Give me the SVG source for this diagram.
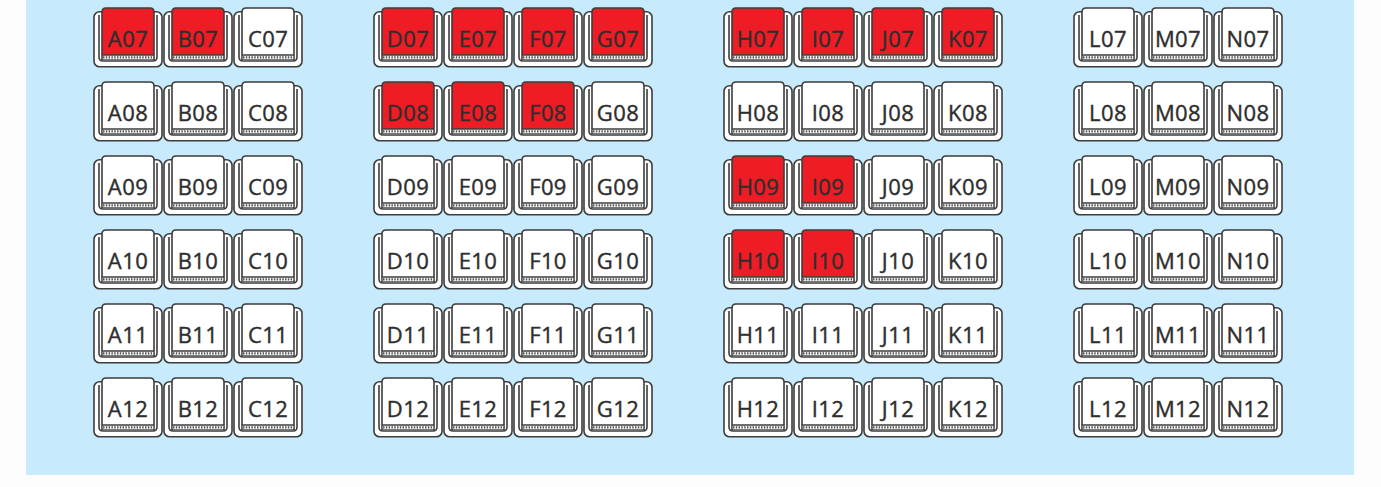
<svg xmlns="http://www.w3.org/2000/svg" xmlns:xlink="http://www.w3.org/1999/xlink" width="1381" height="487" viewBox="0 0 1381 487">
<style>
.ln{stroke:#3d3d3d;stroke-width:1.6;}
.booked{fill:#ee1c25;}
.free{fill:#ffffff;}
.lbl{fill:#2e2e2e;stroke:#2e2e2e;stroke-width:0.4px;font-family:"Open Sans","Noto Sans","Liberation Sans",sans-serif;font-size:22px;letter-spacing:0.4px;text-anchor:middle;}
</style>
<defs>
<g id="chair">
<rect class="ln" x="1" y="3.7" width="68" height="55" rx="5.5" fill="#ffffff"/>
<path class="ln" d="M6,7 V49 Q6,53 10,53 H60 Q64,53 64,49 V7" fill="none"/>
<path class="ln" d="M9,51.3 V4 Q9,0 13,0 H57 Q61,0 61,4 V51.3 Z"/>
<rect x="9.8" y="47" width="50.4" height="4.3" fill="#ffffff"/>
<line class="ln" x1="9" y1="47" x2="61" y2="47" stroke-width="1"/>
<line x1="10" y1="49.3" x2="60" y2="49.3" stroke="#555555" stroke-width="2.2" stroke-dasharray="1.5 1.3"/>
</g>
</defs>
<rect x="0" y="0" width="1381" height="487" fill="#fdfdfd"/>
<rect x="26" y="0" width="1328" height="475" fill="#c7eafc"/>
<g id="seats">
<g id="A07" class="booked" transform="translate(93,8)"><use href="#chair"/><text class="lbl" x="35" y="39">A07</text></g>
<g id="B07" class="booked" transform="translate(163,8)"><use href="#chair"/><text class="lbl" x="35" y="39">B07</text></g>
<g id="C07" class="free" transform="translate(233,8)"><use href="#chair"/><text class="lbl" x="35" y="39">C07</text></g>
<g id="D07" class="booked" transform="translate(373,8)"><use href="#chair"/><text class="lbl" x="35" y="39">D07</text></g>
<g id="E07" class="booked" transform="translate(443,8)"><use href="#chair"/><text class="lbl" x="35" y="39">E07</text></g>
<g id="F07" class="booked" transform="translate(513,8)"><use href="#chair"/><text class="lbl" x="35" y="39">F07</text></g>
<g id="G07" class="booked" transform="translate(583,8)"><use href="#chair"/><text class="lbl" x="35" y="39">G07</text></g>
<g id="H07" class="booked" transform="translate(723,8)"><use href="#chair"/><text class="lbl" x="35" y="39">H07</text></g>
<g id="I07" class="booked" transform="translate(793,8)"><use href="#chair"/><text class="lbl" x="35" y="39">I07</text></g>
<g id="J07" class="booked" transform="translate(863,8)"><use href="#chair"/><text class="lbl" x="35" y="39">J07</text></g>
<g id="K07" class="booked" transform="translate(933,8)"><use href="#chair"/><text class="lbl" x="35" y="39">K07</text></g>
<g id="L07" class="free" transform="translate(1073,8)"><use href="#chair"/><text class="lbl" x="35" y="39">L07</text></g>
<g id="M07" class="free" transform="translate(1143,8)"><use href="#chair"/><text class="lbl" x="35" y="39">M07</text></g>
<g id="N07" class="free" transform="translate(1213,8)"><use href="#chair"/><text class="lbl" x="35" y="39">N07</text></g>

<g id="A08" class="free" transform="translate(93,82)"><use href="#chair"/><text class="lbl" x="35" y="39">A08</text></g>
<g id="B08" class="free" transform="translate(163,82)"><use href="#chair"/><text class="lbl" x="35" y="39">B08</text></g>
<g id="C08" class="free" transform="translate(233,82)"><use href="#chair"/><text class="lbl" x="35" y="39">C08</text></g>
<g id="D08" class="booked" transform="translate(373,82)"><use href="#chair"/><text class="lbl" x="35" y="39">D08</text></g>
<g id="E08" class="booked" transform="translate(443,82)"><use href="#chair"/><text class="lbl" x="35" y="39">E08</text></g>
<g id="F08" class="booked" transform="translate(513,82)"><use href="#chair"/><text class="lbl" x="35" y="39">F08</text></g>
<g id="G08" class="free" transform="translate(583,82)"><use href="#chair"/><text class="lbl" x="35" y="39">G08</text></g>
<g id="H08" class="free" transform="translate(723,82)"><use href="#chair"/><text class="lbl" x="35" y="39">H08</text></g>
<g id="I08" class="free" transform="translate(793,82)"><use href="#chair"/><text class="lbl" x="35" y="39">I08</text></g>
<g id="J08" class="free" transform="translate(863,82)"><use href="#chair"/><text class="lbl" x="35" y="39">J08</text></g>
<g id="K08" class="free" transform="translate(933,82)"><use href="#chair"/><text class="lbl" x="35" y="39">K08</text></g>
<g id="L08" class="free" transform="translate(1073,82)"><use href="#chair"/><text class="lbl" x="35" y="39">L08</text></g>
<g id="M08" class="free" transform="translate(1143,82)"><use href="#chair"/><text class="lbl" x="35" y="39">M08</text></g>
<g id="N08" class="free" transform="translate(1213,82)"><use href="#chair"/><text class="lbl" x="35" y="39">N08</text></g>

<g id="A09" class="free" transform="translate(93,156)"><use href="#chair"/><text class="lbl" x="35" y="39">A09</text></g>
<g id="B09" class="free" transform="translate(163,156)"><use href="#chair"/><text class="lbl" x="35" y="39">B09</text></g>
<g id="C09" class="free" transform="translate(233,156)"><use href="#chair"/><text class="lbl" x="35" y="39">C09</text></g>
<g id="D09" class="free" transform="translate(373,156)"><use href="#chair"/><text class="lbl" x="35" y="39">D09</text></g>
<g id="E09" class="free" transform="translate(443,156)"><use href="#chair"/><text class="lbl" x="35" y="39">E09</text></g>
<g id="F09" class="free" transform="translate(513,156)"><use href="#chair"/><text class="lbl" x="35" y="39">F09</text></g>
<g id="G09" class="free" transform="translate(583,156)"><use href="#chair"/><text class="lbl" x="35" y="39">G09</text></g>
<g id="H09" class="booked" transform="translate(723,156)"><use href="#chair"/><text class="lbl" x="35" y="39">H09</text></g>
<g id="I09" class="booked" transform="translate(793,156)"><use href="#chair"/><text class="lbl" x="35" y="39">I09</text></g>
<g id="J09" class="free" transform="translate(863,156)"><use href="#chair"/><text class="lbl" x="35" y="39">J09</text></g>
<g id="K09" class="free" transform="translate(933,156)"><use href="#chair"/><text class="lbl" x="35" y="39">K09</text></g>
<g id="L09" class="free" transform="translate(1073,156)"><use href="#chair"/><text class="lbl" x="35" y="39">L09</text></g>
<g id="M09" class="free" transform="translate(1143,156)"><use href="#chair"/><text class="lbl" x="35" y="39">M09</text></g>
<g id="N09" class="free" transform="translate(1213,156)"><use href="#chair"/><text class="lbl" x="35" y="39">N09</text></g>

<g id="A10" class="free" transform="translate(93,230)"><use href="#chair"/><text class="lbl" x="35" y="39">A10</text></g>
<g id="B10" class="free" transform="translate(163,230)"><use href="#chair"/><text class="lbl" x="35" y="39">B10</text></g>
<g id="C10" class="free" transform="translate(233,230)"><use href="#chair"/><text class="lbl" x="35" y="39">C10</text></g>
<g id="D10" class="free" transform="translate(373,230)"><use href="#chair"/><text class="lbl" x="35" y="39">D10</text></g>
<g id="E10" class="free" transform="translate(443,230)"><use href="#chair"/><text class="lbl" x="35" y="39">E10</text></g>
<g id="F10" class="free" transform="translate(513,230)"><use href="#chair"/><text class="lbl" x="35" y="39">F10</text></g>
<g id="G10" class="free" transform="translate(583,230)"><use href="#chair"/><text class="lbl" x="35" y="39">G10</text></g>
<g id="H10" class="booked" transform="translate(723,230)"><use href="#chair"/><text class="lbl" x="35" y="39">H10</text></g>
<g id="I10" class="booked" transform="translate(793,230)"><use href="#chair"/><text class="lbl" x="35" y="39">I10</text></g>
<g id="J10" class="free" transform="translate(863,230)"><use href="#chair"/><text class="lbl" x="35" y="39">J10</text></g>
<g id="K10" class="free" transform="translate(933,230)"><use href="#chair"/><text class="lbl" x="35" y="39">K10</text></g>
<g id="L10" class="free" transform="translate(1073,230)"><use href="#chair"/><text class="lbl" x="35" y="39">L10</text></g>
<g id="M10" class="free" transform="translate(1143,230)"><use href="#chair"/><text class="lbl" x="35" y="39">M10</text></g>
<g id="N10" class="free" transform="translate(1213,230)"><use href="#chair"/><text class="lbl" x="35" y="39">N10</text></g>

<g id="A11" class="free" transform="translate(93,304)"><use href="#chair"/><text class="lbl" x="35" y="39">A11</text></g>
<g id="B11" class="free" transform="translate(163,304)"><use href="#chair"/><text class="lbl" x="35" y="39">B11</text></g>
<g id="C11" class="free" transform="translate(233,304)"><use href="#chair"/><text class="lbl" x="35" y="39">C11</text></g>
<g id="D11" class="free" transform="translate(373,304)"><use href="#chair"/><text class="lbl" x="35" y="39">D11</text></g>
<g id="E11" class="free" transform="translate(443,304)"><use href="#chair"/><text class="lbl" x="35" y="39">E11</text></g>
<g id="F11" class="free" transform="translate(513,304)"><use href="#chair"/><text class="lbl" x="35" y="39">F11</text></g>
<g id="G11" class="free" transform="translate(583,304)"><use href="#chair"/><text class="lbl" x="35" y="39">G11</text></g>
<g id="H11" class="free" transform="translate(723,304)"><use href="#chair"/><text class="lbl" x="35" y="39">H11</text></g>
<g id="I11" class="free" transform="translate(793,304)"><use href="#chair"/><text class="lbl" x="35" y="39">I11</text></g>
<g id="J11" class="free" transform="translate(863,304)"><use href="#chair"/><text class="lbl" x="35" y="39">J11</text></g>
<g id="K11" class="free" transform="translate(933,304)"><use href="#chair"/><text class="lbl" x="35" y="39">K11</text></g>
<g id="L11" class="free" transform="translate(1073,304)"><use href="#chair"/><text class="lbl" x="35" y="39">L11</text></g>
<g id="M11" class="free" transform="translate(1143,304)"><use href="#chair"/><text class="lbl" x="35" y="39">M11</text></g>
<g id="N11" class="free" transform="translate(1213,304)"><use href="#chair"/><text class="lbl" x="35" y="39">N11</text></g>

<g id="A12" class="free" transform="translate(93,378)"><use href="#chair"/><text class="lbl" x="35" y="39">A12</text></g>
<g id="B12" class="free" transform="translate(163,378)"><use href="#chair"/><text class="lbl" x="35" y="39">B12</text></g>
<g id="C12" class="free" transform="translate(233,378)"><use href="#chair"/><text class="lbl" x="35" y="39">C12</text></g>
<g id="D12" class="free" transform="translate(373,378)"><use href="#chair"/><text class="lbl" x="35" y="39">D12</text></g>
<g id="E12" class="free" transform="translate(443,378)"><use href="#chair"/><text class="lbl" x="35" y="39">E12</text></g>
<g id="F12" class="free" transform="translate(513,378)"><use href="#chair"/><text class="lbl" x="35" y="39">F12</text></g>
<g id="G12" class="free" transform="translate(583,378)"><use href="#chair"/><text class="lbl" x="35" y="39">G12</text></g>
<g id="H12" class="free" transform="translate(723,378)"><use href="#chair"/><text class="lbl" x="35" y="39">H12</text></g>
<g id="I12" class="free" transform="translate(793,378)"><use href="#chair"/><text class="lbl" x="35" y="39">I12</text></g>
<g id="J12" class="free" transform="translate(863,378)"><use href="#chair"/><text class="lbl" x="35" y="39">J12</text></g>
<g id="K12" class="free" transform="translate(933,378)"><use href="#chair"/><text class="lbl" x="35" y="39">K12</text></g>
<g id="L12" class="free" transform="translate(1073,378)"><use href="#chair"/><text class="lbl" x="35" y="39">L12</text></g>
<g id="M12" class="free" transform="translate(1143,378)"><use href="#chair"/><text class="lbl" x="35" y="39">M12</text></g>
<g id="N12" class="free" transform="translate(1213,378)"><use href="#chair"/><text class="lbl" x="35" y="39">N12</text></g>
</g>
<g id="connectors"/>
</svg>
